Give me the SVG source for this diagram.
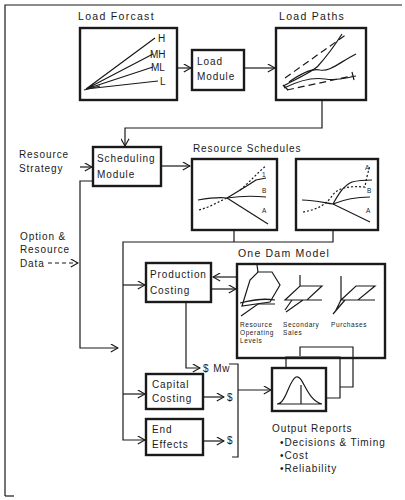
<svg xmlns="http://www.w3.org/2000/svg" width="405" height="500" viewBox="0 0 405 500">
<defs>
<marker id="ah" viewBox="0 0 10 10" refX="9" refY="5" markerWidth="9" markerHeight="9" markerUnits="userSpaceOnUse" orient="auto">
<path d="M1,0.5 L9,5 L1,9.5" fill="none" stroke="#1a1a1a" stroke-width="1.3"/>
</marker>
<style>
.box{fill:#fff;stroke:#1a1a1a;stroke-width:2.4}
.ln{fill:none;stroke:#1a1a1a;stroke-width:1.2}
.c{fill:none;stroke:#1a1a1a;stroke-width:1.2}
.t{font-family:"Liberation Sans",Arial,sans-serif;font-size:10px;letter-spacing:0.9px;fill:#1a1a1a}
.s{font-family:"Liberation Sans",Arial,sans-serif;font-size:6.5px;letter-spacing:0.6px;fill:#1a1a1a}
.d{stroke-dasharray:7 4}
.dt{stroke-dasharray:2 2}
</style>
</defs>
<rect width="405" height="500" fill="#fff"/>
<g id="frame" class="ln">
<path d="M5,496 L5,5 L402,5"/>
<path d="M5,496 L14,496"/>
</g>

<g id="load-forcast">
<text class="t" x="78" y="20" style="font-size:10.5px;letter-spacing:1.3px">Load Forcast</text>
<rect class="box" x="80" y="28" width="97" height="72"/>
<path class="ln" d="M86,89 L155,38 M86,89 L153,54 M86,89 L153,67 M86,89 L158,81"/>
<path class="ln" d="M84,90 L100,86" stroke-width="2.5"/>
<text class="t" x="158" y="42">H</text>
<text class="t" x="150" y="58" style="letter-spacing:0">MH</text>
<text class="t" x="151" y="71" style="letter-spacing:0">ML</text>
<text class="t" x="160" y="85">L</text>
</g>

<g id="load-module">
<rect class="box" x="192" y="50" width="52" height="40"/>
<text class="t" x="197" y="65">Load</text>
<text class="t" x="197" y="80">Module</text>
</g>

<g id="load-paths">
<text class="t" x="279" y="20" style="font-size:10.5px;letter-spacing:1.3px">Load Paths</text>
<rect class="box" x="276" y="28" width="90" height="72"/>
<path class="ln d" d="M285,78 L347,34"/>
<path class="ln d" d="M287,90 L352,76"/>
<path class="ln" d="M283,86 C298,78 312,72 318,66 C327,56 335,45 342,34"/>
<path class="ln" d="M289,82 C300,74 312,68 320,70 C330,72 340,62 356,54"/>
<path class="ln" d="M284,88 C300,80 312,77 325,79 C338,81 345,78 356,76 M352,72 L354,80"/>
<path class="ln" d="M283,85 L288,90" stroke-width="2"/>
</g>

<g id="scheduling-module">
<rect class="box" x="93" y="147" width="68" height="39"/>
<text class="t" x="97" y="162">Scheduling</text>
<text class="t" x="97" y="178">Module</text>
</g>

<g id="resource-strategy">
<text class="t" x="19" y="158">Resource</text>
<text class="t" x="19" y="172">Strategy</text>
</g>

<g id="resource-schedules">
<text class="t" x="193" y="152">Resource Schedules</text>
<rect class="box" x="192" y="159" width="85" height="71"/>
<path class="ln" d="M198,200 C210,198 218,197 227,198"/>
<path class="ln dt" d="M199,210 C210,207 218,202 227,198"/>
<path class="ln" d="M227,198 L268,224" stroke-width="1.8"/>
<path class="ln" d="M227,198 C240,196 255,196 266,197"/>
<path class="ln" d="M227,198 C237,192 247,186 256,180 L266,178" stroke-width="2"/>
<path class="ln dt" d="M240,190 C250,182 258,172 266,166"/>
<text class="s" x="262" y="193">B</text>
<text class="s" x="262" y="213">A</text>
<text class="s" x="262" y="177">1</text>
<rect class="box" x="296" y="159" width="82" height="71"/>
<path class="ln" d="M302,200 C315,200 325,203 333,204 L370,222" stroke-width="1.5"/>
<path class="ln" d="M333,204 C345,199 358,197 370,197"/>
<path class="ln dt" d="M303,212 C315,210 325,206 332,196 C338,187 350,186 365,187 C366,180 368,172 370,166"/>
<path class="ln" d="M333,204 C338,195 343,186 352,182 C360,180 366,180 372,180"/>
<text class="s" x="367" y="193">B</text>
<text class="s" x="366" y="213">A</text>
<text class="s" x="365" y="170">A</text>
</g>

<g id="option-data">
<text class="t" x="20" y="240">Option &amp;</text>
<text class="t" x="20" y="253">Resource</text>
<text class="t" x="20" y="267">Data</text>
</g>

<g id="production-costing">
<rect class="box" x="146" y="263" width="65" height="39"/>
<text class="t" x="150" y="278">Production</text>
<text class="t" x="150" y="294">Costing</text>
</g>

<g id="one-dam-model">
<text class="t" x="238" y="257" style="font-size:10.5px;letter-spacing:1.2px">One Dam Model</text>
<rect class="box" x="237" y="264" width="148" height="94"/>
<path class="ln" d="M242,306 L250,280 L258,272 L272,272 L280,285 L270,302 Z"/>
<path class="ln" d="M258,272 L257,265"/>
<path class="ln" d="M240,303 C252,300 262,298 275,300"/>
<path class="ln" d="M241,316 L258,304 L275,304"/>
<path class="ln" d="M285,300 L300,286 L322,286 L307,300 Z M300,286 L300,275 M292,300 L285,310 M303,300 L286,312 M305,300 L322,300"/>
<path class="ln" d="M341,300 L356,286 L375,286 L358,300 Z M341,300 L341,276 M341,300 L335,312 M355,300 L375,300 M345,300 L333,314"/>
<text class="s" x="240" y="327">Resource</text>
<text class="s" x="240" y="335">Operating</text>
<text class="s" x="240" y="343">Levels</text>
<text class="s" x="283" y="327">Secondary</text>
<text class="s" x="283" y="335">Sales</text>
<text class="s" x="331" y="327">Purchases</text>
</g>

<g id="capital-costing">
<rect class="box" x="146" y="374" width="57" height="35"/>
<text class="t" x="152" y="388">Capital</text>
<text class="t" x="152" y="402">Costing</text>
</g>

<g id="end-effects">
<rect class="box" x="146" y="419" width="57" height="36"/>
<text class="t" x="152" y="433">End</text>
<text class="t" x="152" y="448">Effects</text>
</g>

<g id="output-reports">
<path class="ln" d="M300,356 L300,347 L353,347 L353,387 L340,387" stroke-width="2"/>
<path class="ln" d="M286,367 L286,357 L340,357 L340,398 L326,398" stroke-width="2"/>
<rect class="box" x="272" y="368" width="54" height="43"/>
<path class="ln" d="M277,404 C286,404 289,380 296,377 C303,374 306,400 322,404 M301,385 L301,404 M277,404 L322,404" stroke-width="1"/>
<text class="t" x="272" y="432">Output Reports</text>
<text class="t" x="280" y="446">•Decisions &amp; Timing</text>
<text class="t" x="280" y="459">•Cost</text>
<text class="t" x="280" y="472">•Reliability</text>
</g>

<g id="outputs">
<text class="t" x="203" y="372">$ Mw</text>
<text class="t" x="227" y="401">$</text>
<text class="t" x="227" y="444">$</text>
</g>

<g id="connectors" class="c">
<path d="M177,68 L191,68" marker-end="url(#ah)"/>
<path d="M244,68 L275,68" marker-end="url(#ah)"/>
<path d="M322,100 L322,128 L125,128 L125,146" marker-end="url(#ah)"/>
<path d="M80,167 L92,167" marker-end="url(#ah)"/>
<path d="M161,166 L190,166" marker-end="url(#ah)"/>
<path d="M234,230 L234,242 M333,230 L333,242 L123,242 L123,440 L145,440" marker-end="url(#ah)"/>
<path d="M123,285 L145,285" marker-end="url(#ah)"/>
<path d="M123,394 L145,394" marker-end="url(#ah)"/>
<path d="M93,181 L80,181 L80,348 L118,348" marker-end="url(#ah)"/>
<path d="M48,263 L78,263" stroke-dasharray="4 3" marker-end="url(#ah)"/>
<path d="M237,277 L213,277" marker-end="url(#ah)"/>
<path d="M211,289 L236,289" marker-end="url(#ah)"/>
<path d="M186,302 L186,368 L200,368" marker-end="url(#ah)"/>
<path d="M203,397 L224,397" marker-end="url(#ah)"/>
<path d="M203,441 L224,441" marker-end="url(#ah)"/>
<path d="M229,364 L238,364 L238,457 L232,457"/>
<path d="M238,390 L271,390" marker-end="url(#ah)"/>
</g>
</svg>
